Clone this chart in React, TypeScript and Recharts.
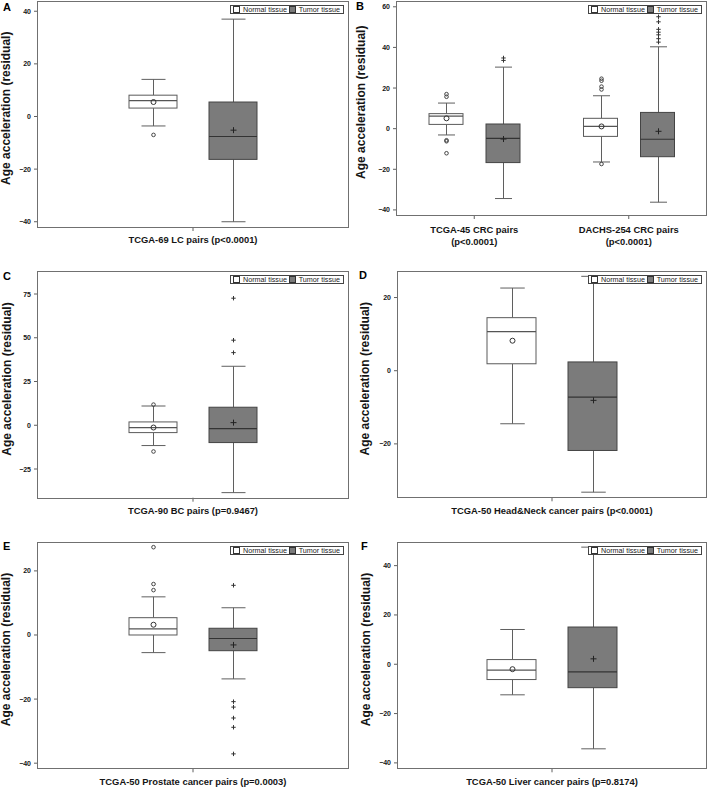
import React from 'react';
import { ComposedChart, Bar, XAxis, YAxis, Legend } from 'recharts';

type Stats = {
  low: number;
  q1: number;
  median: number;
  q3: number;
  high: number;
  mean: number;
  outliers: number[];
};

// ---------- Panel A : TCGA-69 LC ----------
const lcCategories = ['TCGA-69 LC pairs (p<0.0001)'];
const lcNormal: Stats[] = [{ low: -3.6, q1: 3.2, median: 6.0, q3: 8.1, high: 14.1, mean: 5.5, outliers: [-7.0] }];
const lcTumor: Stats[] = [{ low: -40.0, q1: -16.3, median: -7.6, q3: 5.5, high: 37.0, mean: -5.2, outliers: [] }];
const lcTicks = [-40, -20, 0, 20, 40];
const lcDomain = [-42.0, 43.7];

// ---------- Panel B : CRC ----------
const crcCategories = ['TCGA-45 CRC pairs\n(p<0.0001)', 'DACHS-254 CRC pairs\n(p<0.0001)'];
const crcNormal: Stats[] = [
  { low: -3.1, q1: 2.1, median: 6.2, q3: 7.4, high: 12.6, mean: 5.1, outliers: [17.0, 15.7, -5.7, -6.2, -12.1] },
  { low: -16.4, q1: -3.8, median: 1.1, q3: 5.1, high: 16.2, mean: 1.1, outliers: [24.6, 23.6, 20.7, 19.3, -17.4] },
];
const crcTumor: Stats[] = [
  { low: -34.4, q1: -16.7, median: -4.8, q3: 2.3, high: 30.3, mean: -5.1, outliers: [34.8, 33.6] },
  { low: -36.2, q1: -13.8, median: -5.2, q3: 8.0, high: 40.3, mean: -1.3, outliers: [55.1, 52.6, 48.9, 47.5, 46.2, 44.3, 42.6] },
];
const crcTicks = [-40, -20, 0, 20, 40, 60];
const crcDomain = [-42.5, 62.6];

// ---------- Panel C : BC ----------
const bcCategories = ['TCGA-90 BC pairs (p=0.9467)'];
const bcNormal: Stats[] = [{ low: -11.6, q1: -4.2, median: -1.3, q3: 1.9, high: 11.0, mean: -1.3, outliers: [11.8, -15.0] }];
const bcTumor: Stats[] = [{ low: -38.5, q1: -9.9, median: -1.9, q3: 10.3, high: 33.7, mean: 1.5, outliers: [72.6, 48.6, 41.5] }];
const bcTicks = [-25, 0, 25, 50, 75];
const bcDomain = [-41.4, 87.4];

// ---------- Panel D : Head & Neck ----------
const hnCategories = ['TCGA-50 Head&Neck cancer pairs (p<0.0001)'];
const hnNormal: Stats[] = [{ low: -14.5, q1: 1.9, median: 10.7, q3: 14.5, high: 22.6, mean: 8.2, outliers: [] }];
const hnTumor: Stats[] = [{ low: -33.2, q1: -21.8, median: -7.2, q3: 2.4, high: 25.8, mean: -8.1, outliers: [] }];
const hnTicks = [-20, 0, 20];
const hnDomain = [-34.6, 26.9];

// ---------- Panel E : Prostate ----------
const prCategories = ['TCGA-50 Prostate cancer pairs (p=0.0003)'];
const prNormal: Stats[] = [{ low: -5.5, q1: 0.0, median: 1.9, q3: 5.4, high: 11.9, mean: 3.2, outliers: [27.4, 15.9, 14.0] }];
const prTumor: Stats[] = [{ low: -13.7, q1: -4.9, median: -1.1, q3: 2.1, high: 8.5, mean: -3.1, outliers: [15.5, -20.8, -22.5, -25.9, -28.8, -37.1] }];
const prTicks = [-40, -20, 0, 20];
const prDomain = [-41.6, 28.8];

// ---------- Panel F : Liver ----------
const lvCategories = ['TCGA-50 Liver cancer pairs (p=0.8174)'];
const lvNormal: Stats[] = [{ low: -12.4, q1: -6.2, median: -2.4, q3: 1.9, high: 14.1, mean: -2.0, outliers: [] }];
const lvTumor: Stats[] = [{ low: -34.3, q1: -9.5, median: -3.1, q3: 15.1, high: 47.5, mean: 2.2, outliers: [] }];
const lvTicks = [-40, -20, 0, 20, 40];
const lvDomain = [-42.2, 49.3];

const seriesNames = ['Normal tissue', 'Tumor tissue'];
const yAxisTitle = 'Age acceleration (residual)';

// ---------- styling ----------
const FONT = '"Liberation Sans", Arial, Helvetica, sans-serif';
const NORMAL_FILL = '#ffffff';
const TUMOR_FILL = '#7b7b7b';
const FRAME = '#707070';
const LINE = '#5f5f5f';
const TEXT = '#151515';
const LEGEND_W = 114;

type Layout = {
  left: number;
  top: number;
  width: number;
  height: number;
  fl: number;
  ft: number;
  fr: number;
  fb: number;
  barSize: number;
  barGap: number;
  labelX: number;
  letterX: number;
  letterY: number;
  twoLine: boolean;
};

type PanelDef = {
  letter: string;
  categories: string[];
  normal: Stats[];
  tumor: Stats[];
  ticks: number[];
  domain: number[];
  layout: Layout;
};

const panels: PanelDef[] = [
  {
    letter: 'A', categories: lcCategories, normal: lcNormal, tumor: lcTumor, ticks: lcTicks, domain: lcDomain,
    layout: { left: 0, top: 0, width: 354, height: 258, fl: 38, ft: 1.5, fr: 348, fb: 227, barSize: 48, barGap: 32, labelX: 6, letterX: 3, letterY: 11, twoLine: false },
  },
  {
    letter: 'B', categories: crcCategories, normal: crcNormal, tumor: crcTumor, ticks: crcTicks, domain: crcDomain,
    layout: { left: 354, top: 0, width: 355, height: 258, fl: 43, ft: 1.5, fr: 352, fb: 215, barSize: 34, barGap: 23, labelX: 7, letterX: 2, letterY: 9.5, twoLine: true },
  },
  {
    letter: 'C', categories: bcCategories, normal: bcNormal, tumor: bcTumor, ticks: bcTicks, domain: bcDomain,
    layout: { left: 0, top: 260, width: 354, height: 258, fl: 38, ft: 12.3, fr: 348, fb: 237.7, barSize: 48, barGap: 32, labelX: 6.5, letterX: 3, letterY: 19.5, twoLine: false },
  },
  {
    letter: 'D', categories: hnCategories, normal: hnNormal, tumor: hnTumor, ticks: hnTicks, domain: hnDomain,
    layout: { left: 354, top: 260, width: 355, height: 258, fl: 44, ft: 12.3, fr: 352, fb: 237.3, barSize: 49, barGap: 32, labelX: 10.8, letterX: 5, letterY: 18.5, twoLine: false },
  },
  {
    letter: 'E', categories: prCategories, normal: prNormal, tumor: prTumor, ticks: prTicks, domain: prDomain,
    layout: { left: 0, top: 520, width: 354, height: 268, fl: 38, ft: 22.7, fr: 348, fb: 248.3, barSize: 48, barGap: 32, labelX: 6, letterX: 3, letterY: 30, twoLine: false },
  },
  {
    letter: 'F', categories: lvCategories, normal: lvNormal, tumor: lvTumor, ticks: lvTicks, domain: lvDomain,
    layout: { left: 354, top: 520, width: 355, height: 268, fl: 44, ft: 22.7, fr: 352, fb: 248.3, barSize: 49, barGap: 32, labelX: 11.5, letterX: 7, letterY: 29.5, twoLine: false },
  },
];

const fmtTick = (v: number) => (v < 0 ? '\u2212' + Math.abs(v) : String(v));

function makeBoxShape(kind: 'normal' | 'tumor') {
  const BoxShape = (props: any) => {
    const { x, y, width, height, payload } = props;
    const s: Stats | undefined = payload ? payload[kind] : undefined;
    if (!s || !isFinite(y) || !isFinite(height) || height === 0) return <g />;
    const ppu = height / (s.q3 - s.q1);
    const py = (v: number) => y + (s.q3 - v) * ppu;
    const cx = Math.round(x + width / 2) + 0.5;
    const cap = width / 4;
    const isTumor = kind === 'tumor';
    const boxStroke = isTumor ? '#444' : '#5a5a5a';
    return (
      <g>
        <line x1={cx} x2={cx} y1={py(s.high)} y2={py(s.q3)} stroke={LINE} strokeWidth={1} />
        <line x1={cx} x2={cx} y1={py(s.q1)} y2={py(s.low)} stroke={LINE} strokeWidth={1} />
        <line x1={cx - cap} x2={cx + cap} y1={py(s.high)} y2={py(s.high)} stroke={LINE} strokeWidth={1} />
        <line x1={cx - cap} x2={cx + cap} y1={py(s.low)} y2={py(s.low)} stroke={LINE} strokeWidth={1} />
        <rect x={x} y={y} width={width} height={height} fill={isTumor ? TUMOR_FILL : NORMAL_FILL} stroke={boxStroke} strokeWidth={1} />
        <line x1={x} x2={x + width} y1={py(s.median)} y2={py(s.median)} stroke={isTumor ? '#333' : '#555'} strokeWidth={1.2} />
        {isTumor ? (
          <g stroke="#222" strokeWidth={1}>
            <line x1={cx - 3} x2={cx + 3} y1={py(s.mean)} y2={py(s.mean)} />
            <line x1={cx} x2={cx} y1={py(s.mean) - 3} y2={py(s.mean) + 3} />
          </g>
        ) : (
          <circle cx={cx} cy={py(s.mean)} r={2.5} fill="none" stroke="#333" strokeWidth={1} />
        )}
        {s.outliers.map((o, i) =>
          isTumor ? (
            <g key={i} stroke="#333" strokeWidth={1}>
              <line x1={cx - 2.2} x2={cx + 2.2} y1={py(o)} y2={py(o)} />
              <line x1={cx} x2={cx} y1={py(o) - 2.2} y2={py(o) + 2.2} />
            </g>
          ) : (
            <circle key={i} cx={cx} cy={py(o)} r={1.8} fill="none" stroke="#444" strokeWidth={1} />
          )
        )}
      </g>
    );
  };
  return BoxShape;
}

const normalShape = makeBoxShape('normal');
const tumorShape = makeBoxShape('tumor');

const LegendBox = (props: any) => {
  const payload: any[] = props && props.payload && props.payload.length ? props.payload : [];
  const items = seriesNames.map((n, i) => {
    const p = payload.find((e) => e.value === n);
    return { name: n, color: p && p.color ? p.color : i === 0 ? NORMAL_FILL : TUMOR_FILL };
  });
  return (
    <div
      style={{
        display: 'flex',
        alignItems: 'center',
        justifyContent: 'space-between',
        boxSizing: 'border-box',
        width: LEGEND_W,
        height: 9,
        border: '1px solid #444',
        background: '#fff',
        fontFamily: FONT,
        fontSize: 7.2,
        lineHeight: '7px',
        color: '#222',
        padding: '0 3px 0 2px',
        whiteSpace: 'nowrap',
      }}
    >
      {items.map((it) => (
        <span key={it.name} style={{ display: 'flex', alignItems: 'center' }}>
          <span
            style={{
              display: 'inline-block',
              boxSizing: 'border-box',
              width: 7,
              height: 7,
              border: '1px solid #333',
              background: it.color,
              marginRight: 3,
            }}
          />
          <span>{it.name}</span>
        </span>
      ))}
    </div>
  );
};

const makeXTick = (twoLine: boolean) => {
  const XTick = (props: any) => {
    const { x, y, payload } = props;
    const lines = String(payload.value).split('\n');
    return (
      <text x={x} y={y} textAnchor="middle" fontSize={9.4} fontWeight="bold" fill={TEXT} fontFamily={FONT}>
        {lines.map((l, i) => (
          <tspan key={i} x={x} dy={i === 0 ? (twoLine ? 11.6 : 10.3) : 12.4}>
            {l}
          </tspan>
        ))}
      </text>
    );
  };
  return XTick;
};

const YTick = (props: any) => {
  const { x, y, payload } = props;
  return (
    <text x={x} y={y} dy={2.5} textAnchor="end" fontSize={7} fontWeight="bold" fill={TEXT} fontFamily={FONT}>
      {fmtTick(payload.value)}
    </text>
  );
};

function Panel({ p }: { p: PanelDef }) {
  const L = p.layout;
  const data = p.categories.map((c, i) => ({ category: c, normal: p.normal[i], tumor: p.tumor[i] }));
  const margin = { top: L.ft, right: L.width - L.fr, left: 0, bottom: 0 };
  const labelContent = (lp: any) => {
    const vb = lp.viewBox || { x: 0, y: L.ft, width: L.fl, height: L.fb - L.ft };
    const cx = vb.x + L.labelX;
    const cy = vb.y + vb.height / 2 - 6;
    return (
      <text
        x={cx}
        y={cy}
        transform={`rotate(-90 ${cx} ${cy})`}
        textAnchor="middle"
        dominantBaseline="central"
        fontSize={12}
        fontWeight="bold"
        fill={TEXT}
        fontFamily={FONT}
      >
        {yAxisTitle}
      </text>
    );
  };
  // frame of the plotting area (layout only)
  const xl = Math.round(L.fl) - 1;
  const xr = Math.round(L.fr) + 1;
  const yt = Math.round(L.ft) - 1;
  const yb = Math.round(L.fb) + 1;
  return (
    <div style={{ position: 'absolute', left: L.left, top: L.top, width: L.width, height: L.height }}>
      <ComposedChart width={L.width} height={L.height} data={data} margin={margin} barGap={L.barGap}>
        <XAxis
          dataKey="category"
          height={L.height - L.fb}
          interval={0}
          tickSize={4}
          tickMargin={2}
          tickLine={{ stroke: LINE }}
          axisLine={false}
          tick={makeXTick(L.twoLine)}
        />
        <YAxis
          type="number"
          width={L.fl}
          domain={p.domain}
          ticks={p.ticks}
          allowDataOverflow
          interval={0}
          tickSize={4}
          tickMargin={3}
          tickLine={{ stroke: LINE }}
          axisLine={false}
          tick={YTick}
          label={{ content: labelContent }}
        />
        <Bar
          dataKey={(d: any) => [d.normal.q1, d.normal.q3]}
          name={seriesNames[0]}
          fill={NORMAL_FILL}
          barSize={L.barSize}
          shape={normalShape}
          isAnimationActive={false}
        />
        <Bar
          dataKey={(d: any) => [d.tumor.q1, d.tumor.q3]}
          name={seriesNames[1]}
          fill={TUMOR_FILL}
          barSize={L.barSize}
          shape={tumorShape}
          isAnimationActive={false}
        />
        <Legend
          layout="horizontal"
          align="center"
          verticalAlign="middle"
          content={LegendBox}
          wrapperStyle={{
            top: L.ft + 3,
            left: L.fr - 4 - LEGEND_W,
            right: 'auto',
            width: LEGEND_W,
            height: 9,
            lineHeight: 0,
            zIndex: 4,
          }}
        />
      </ComposedChart>
      <div
        style={{
          position: 'absolute',
          left: xl,
          top: yt,
          width: xr - xl,
          height: yb - yt,
          boxSizing: 'border-box',
          border: `1px solid ${FRAME}`,
          pointerEvents: 'none',
          zIndex: 3,
        }}
      />
    </div>
  );
}

export default function App() {
  return (
    <div
      style={{
        position: 'absolute',
        left: 0,
        top: 0,
        width: 709,
        height: 788,
        background: '#fff',
        overflow: 'hidden',
      }}
    >
      {panels.map((p) => (
        <Panel key={p.letter} p={p} />
      ))}
      <svg
        width={709}
        height={788}
        style={{ position: 'absolute', left: 0, top: 0, pointerEvents: 'none', zIndex: 5 }}
      >
        {panels.map((p) => (
          <text
            key={p.letter}
            x={p.layout.left + p.layout.letterX}
            y={p.layout.top + p.layout.letterY}
            fontSize={11}
            fontWeight="bold"
            fill="#000"
            fontFamily={FONT}
          >
            {p.letter}
          </text>
        ))}
      </svg>
    </div>
  );
}
